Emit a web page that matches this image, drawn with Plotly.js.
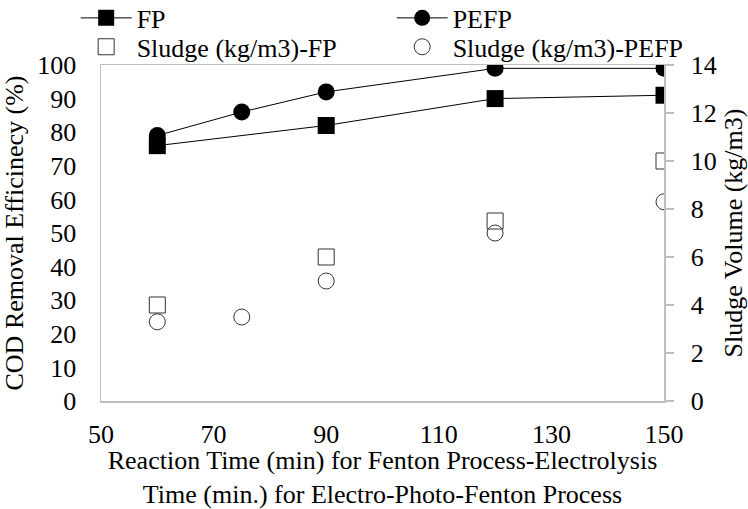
<!DOCTYPE html>
<html>
<head>
<meta charset="utf-8">
<script src="https://cdn.plot.ly/plotly-3.0.1.min.js"></script>
<style>html,body{margin:0;padding:0;background:#fff;}#chart{width:748px;height:509px;}</style>
</head>
<body>
<div id="chart"></div>
<script>
// Data
const timeFP = [60, 90, 120, 150];
const codFP = [76, 82, 90, 91];
const timePEFP = [60, 75, 90, 120, 150];
const codPEFP = [79, 86, 92, 99, 99];
const sludgeFP = [4, 6, 7.5, 10];
const sludgePEFP = [3.3, 3.5, 5, 7, 8.3];
const seriesNames = ["FP", "PEFP", "Sludge (kg/m3)-FP", "Sludge (kg/m3)-PEFP"];

const FONT = "Liberation Serif, Times New Roman, serif";
const FS = 26;
const AXIS_GREY = "#bfbfbf";

const traces = [
  {
    x: timeFP, y: codFP, name: seriesNames[0], type: "scatter", mode: "lines+markers",
    legend: "legend",
    line: {color: "#000", width: 1},
    marker: {symbol: "square", size: 17, color: "#000"}
  },
  {
    x: timePEFP, y: codPEFP, name: seriesNames[1], type: "scatter", mode: "lines+markers",
    legend: "legend",
    line: {color: "#000", width: 1},
    marker: {symbol: "circle", size: 17, color: "#000"}
  },
  {
    x: timeFP, y: sludgeFP, name: seriesNames[2], type: "scatter", mode: "markers", yaxis: "y2",
    legend: "legend2",
    marker: {symbol: "square-open", size: 16, color: "#333", line: {width: 1}}
  },
  {
    x: timePEFP, y: sludgePEFP, name: seriesNames[3], type: "scatter", mode: "markers", yaxis: "y2",
    legend: "legend2",
    marker: {symbol: "circle-open", size: 16, color: "#333", line: {width: 1}}
  }
];

// plot area: left 101, right 664, top 65, bottom 401 (px)
const legendBase = {
  orientation: "h", xref: "paper", yref: "paper",
  xanchor: "left", yanchor: "middle",
  entrywidth: 250, entrywidthmode: "pixels",
  itemwidth: 51,
  font: {family: FONT, size: FS, color: "#000"},
  bgcolor: "rgba(0,0,0,0)", borderwidth: 0
};

const layout = {
  width: 748, height: 509,
  margin: {l: 101, r: 84, t: 65, b: 108, pad: 0, autoexpand: false},
  paper_bgcolor: "#fff", plot_bgcolor: "#fff",
  font: {family: FONT, size: FS, color: "#000"},
  showlegend: true,
  legend: Object.assign({}, legendBase, {x: -0.045, y: 1.14}),
  legend2: Object.assign({}, legendBase, {x: -0.045, y: 1.054}),
  xaxis: {
    range: [50, 150], dtick: 20, tick0: 50,
    showline: true, linecolor: AXIS_GREY, linewidth: 1.5, mirror: true,
    showgrid: false, zeroline: false,
    ticks: "outside", ticklen: 9, tickcolor: "rgba(0,0,0,0)",
    tickfont: {family: FONT, size: FS, color: "#000"},
    title: {
      text: "Reaction Time (min) for Fenton Process-Electrolysis<br>Time (min.) for Electro-Photo-Fenton Process",
      font: {family: FONT, size: FS, color: "#000"}, standoff: 14
    }
  },
  yaxis: {
    range: [0, 100], dtick: 10,
    showline: true, linecolor: AXIS_GREY, linewidth: 1.5,
    showgrid: false, zeroline: false,
    ticks: "outside", ticklen: 18, tickcolor: "rgba(0,0,0,0)",
    tickfont: {family: FONT, size: FS, color: "#000"},
    title: {text: "COD Removal Efficinecy (%)", font: {family: FONT, size: FS, color: "#000"}, standoff: 8}
  },
  yaxis2: {
    range: [0, 14], dtick: 2, overlaying: "y", side: "right",
    showline: true, linecolor: AXIS_GREY, linewidth: 1.5,
    showgrid: false, zeroline: false,
    ticks: "outside", ticklen: 8, tickcolor: AXIS_GREY, tickwidth: 1.5,
    ticklabelstandoff: 12,
    tickfont: {family: FONT, size: FS, color: "#000"},
    title: {text: "Sludge Volume (kg/m3)", font: {family: FONT, size: FS, color: "#000"}, standoff: 10}
  }
};

Plotly.newPlot("chart", traces, layout, {displayModeBar: false, staticPlot: true});
</script>
</body>
</html>
